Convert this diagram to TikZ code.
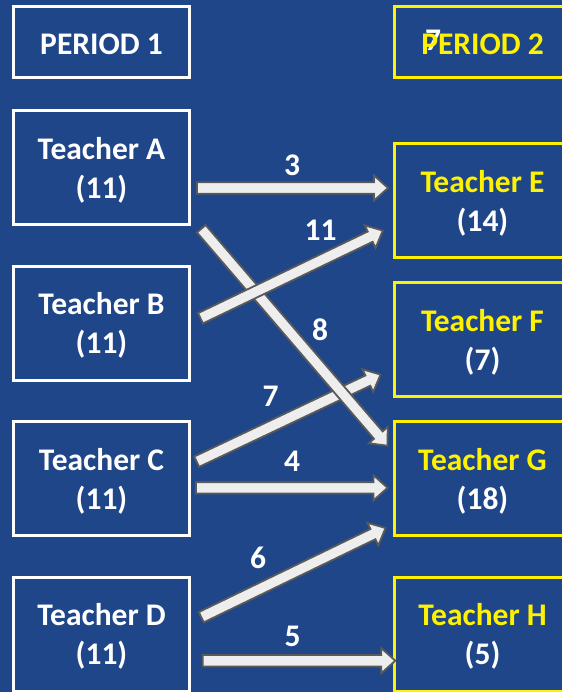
\documentclass[tikz,border=0pt]{standalone}
\usepackage{fontspec}
\setmainfont{Carlito}
\usetikzlibrary{calc}

\definecolor{bgblue}{RGB}{31,70,136}
\definecolor{arrowfill}{RGB}{238,238,238}
\definecolor{arrowline}{RGB}{90,90,90}

\begin{document}
\begin{tikzpicture}[x=1pt,y=-1pt,
					node distance=155.5pt,
					font=\fontsize{31.5}{39}\selectfont\bfseries,
					box/.style={rectangle,line width=3pt,inner sep=0pt,align=center,
						minimum width=176pt,minimum height=114pt,text=white,text depth=-1pt},
					left node/.style={box,draw=white},
					right node/.style={box,draw=yellow},
					head node/.style={minimum height=71pt,text depth=0pt,
						execute at begin node={\rule{0pt}{26pt}}},
					flow label/.style={text=white,inner sep=0pt},
					flow/.style={draw=arrowline,fill=arrowfill,line width=1.8pt,line join=miter,
						to path={
							($(\tikztostart)!5.7pt!90:(\tikztotarget)$)
							-- ($(\tikztotarget)!14pt!(\tikztostart)!5.7pt!-90:(\tikztostart)$)
							-- ($(\tikztotarget)!14pt!(\tikztostart)!12.5pt!-90:(\tikztostart)$)
							-- (\tikztotarget)
							-- ($(\tikztotarget)!14pt!(\tikztostart)!12.5pt!90:(\tikztostart)$)
							-- ($(\tikztotarget)!14pt!(\tikztostart)!5.7pt!90:(\tikztostart)$)
							-- ($(\tikztostart)!5.7pt!-90:(\tikztotarget)$)
							-- cycle}}]

  \useasboundingbox (0,0) rectangle (562,692);
  \clip (0,0) rectangle (562,692);
  \fill[bgblue] (0,0) rectangle (562,692);

  % period 1
  \node[left node,head node] (P1) at (101.5,42) {PERIOD 1};
  \node[left node] (A) [node distance=125.5pt,below of=P1] {Teacher A\\(11)};
  \node[left node] (B) [below of=A] {Teacher B\\(11)};
  \node[left node] (C) [below of=B] {Teacher C\\(11)};
  \node[left node] (D) [below of=C] {Teacher D\\(11)};

  % period 2
  \node[flow label] (stray) at (433,40.5) {7};
  \node[right node,head node,text=yellow] (P2) [node distance=381pt,right of=P1] {PERIOD 2};
  \node[right node] (G) [node distance=381pt,right of=C] {\textcolor{yellow}{Teacher G}\\(18)};
  \node[right node] (H) [node distance=381pt,right of=D] {\textcolor{yellow}{Teacher H}\\(5)};
  \node[right node] (F) [node distance=139pt,above of=G] {\textcolor{yellow}{Teacher F}\\(7)};
  \node[right node] (E) [node distance=139pt,above of=F] {\textcolor{yellow}{Teacher E}\\(14)};

  \path[flow] ([xshift=5.7pt,yshift=16.8pt]C.east) to ([xshift=-12.5pt,yshift=-35.1pt]F.west);
  \path[flow] ([xshift=10.3pt,yshift=-2.8pt]A.south east) to ([xshift=-5.6pt,yshift=32.8pt]G.west);
  \path[flow] ([xshift=9.5pt,yshift=4.7pt]B.east) to ([xshift=-10.2pt,yshift=-30.1pt]E.west);
  \path[flow] ([xshift=6pt,yshift=-20.5pt]A.east) to ([xshift=-5pt,yshift=12.5pt]E.west);
  \path[flow] ([xshift=5pt,yshift=-9.3pt]C.east) to ([xshift=-5.5pt,yshift=-9.3pt]G.west);
  \path[flow] ([xshift=10.3pt,yshift=16.8pt]D.east) to ([xshift=-7.5pt,yshift=-49.5pt]G.west);
  \path[flow] ([xshift=11.7pt,yshift=-26.7pt]D.east) to ([xshift=2.3pt,yshift=-26.7pt]H.west);

  \node[flow label] (n3) at (292,165) {3};
  \node[flow label] (n11) at (320.5,230) {11};
  \node[flow label] (n8) at (320,329.5) {8};
  \node[flow label] (n7) at (270.5,396.5) {7};
  \node[flow label] (n4) at (292,461) {4};
  \node[flow label] (n6) at (258,557.5) {6};
  \node[flow label] (n5) at (292.5,636) {5};
\end{tikzpicture}
\end{document}
